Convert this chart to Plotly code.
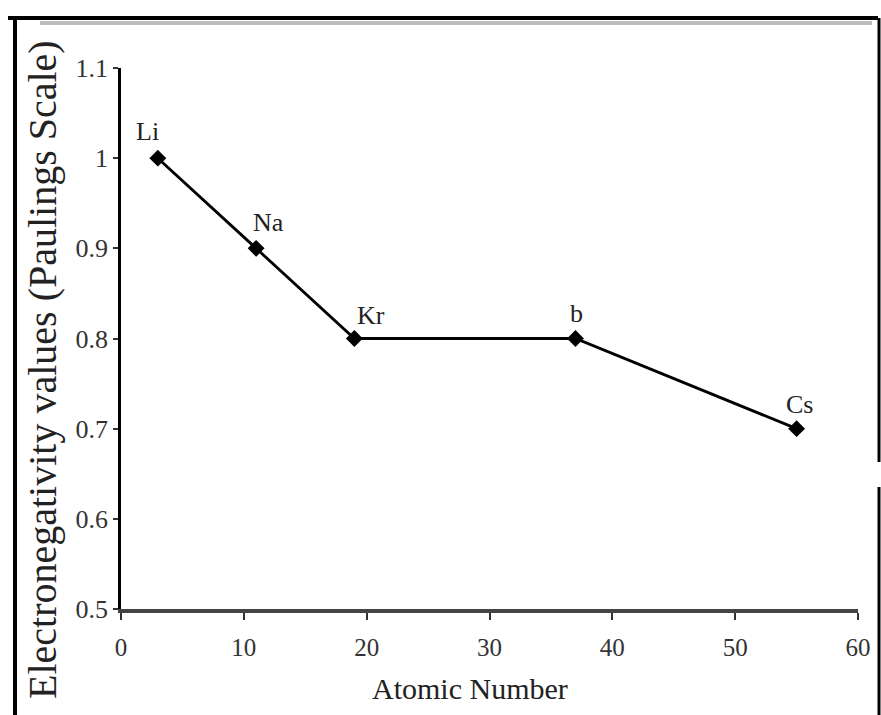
import plotly.graph_objects as go

# data
elements = ["Li", "Na", "Kr", "b", "Cs"]
atomic_number = [3, 11, 19, 37, 55]
electronegativity = [1.0, 0.9, 0.8, 0.8, 0.7]

x_ticks = [0, 10, 20, 30, 40, 50, 60]
y_ticks = [0.5, 0.6, 0.7, 0.8, 0.9, 1.0, 1.1]
y_tick_text = ["0.5", "0.6", "0.7", "0.8", "0.9", "1", "1.1"]

SERIF = "Liberation Serif, Times New Roman, serif"

fig = go.Figure()
fig.add_trace(go.Scatter(
   x=atomic_number,
   y=electronegativity,
   mode="lines+markers",
   line=dict(color="black", width=2.8),
   marker=dict(symbol="diamond", size=13, color="black"),
   showlegend=False,
   cliponaxis=False,
))

# label offsets (pixels) from each marker
label_shift = [(-10, 27), (12, 26), (17, 23), (1, 25), (3, 24)]
for name, xv, yv, (dx, dy) in zip(elements, atomic_number, electronegativity, label_shift):
   fig.add_annotation(x=xv, y=yv, text=name, showarrow=False,
                      xshift=dx, yshift=dy,
                      font=dict(family=SERIF, size=26, color="#222"))

# plot area sits at 121..858 x 68..609 in page pixels
def px(v):
   return (v - 121) / 737

def py(v):
   return (609 - v) / 541

frame = [
   (8, 18, 878, 18, 4, "black"),
   (40, 23, 872, 23, 4, "#bdbdbd"),
   (15, 18, 15, 715, 4, "black"),
   (879, 18, 879, 462, 3, "black"),
   (879, 487, 879, 715, 3, "black"),
]
for x0, y0, x1, y1, w, c in frame:
   fig.add_shape(type="line", xref="paper", yref="paper",
                 x0=px(x0), y0=py(y0), x1=px(x1), y1=py(y1),
                 line=dict(color=c, width=w))

fig.add_annotation(
   text="Electronegativity values (Paulings Scale)",
   xref="paper", yref="paper", x=px(42), y=py(370),
   xanchor="center", yanchor="middle",
   textangle=-90, showarrow=False,
   font=dict(family=SERIF, size=40, color="#222"),
)
fig.add_annotation(
   text="Atomic Number",
   xref="paper", yref="paper", x=px(470), y=py(688),
   xanchor="center", yanchor="middle", showarrow=False,
   font=dict(family=SERIF, size=30, color="#222"),
)

fig.update_xaxes(
   range=[0, 60], tickvals=x_ticks,
   showgrid=False, zeroline=False,
   showline=True, linecolor="#444", linewidth=3.5,
   ticks="outside", ticklen=7, tickwidth=2, tickcolor="#333",
   ticklabelstandoff=6,
   tickfont=dict(family=SERIF, size=25, color="#333"),
)
fig.update_yaxes(
   range=[0.5, 1.1], tickvals=y_ticks, ticktext=y_tick_text,
   showgrid=False, zeroline=False,
   showline=True, linecolor="black", linewidth=2.5,
   ticks="outside", ticklen=5, tickwidth=2, tickcolor="#333",
   tickfont=dict(family=SERIF, size=26, color="#333"),
)
fig.update_layout(
   width=881, height=715,
   margin=dict(l=121, r=23, t=68, b=106, autoexpand=False),
   plot_bgcolor="white", paper_bgcolor="white",
)

# drop the default body margin so the figure fills the window exactly
fig.write_html(
   "out.html",
   config={"displayModeBar": False},
   post_script="document.body.style.margin='0';document.body.style.overflow='hidden';",
)
